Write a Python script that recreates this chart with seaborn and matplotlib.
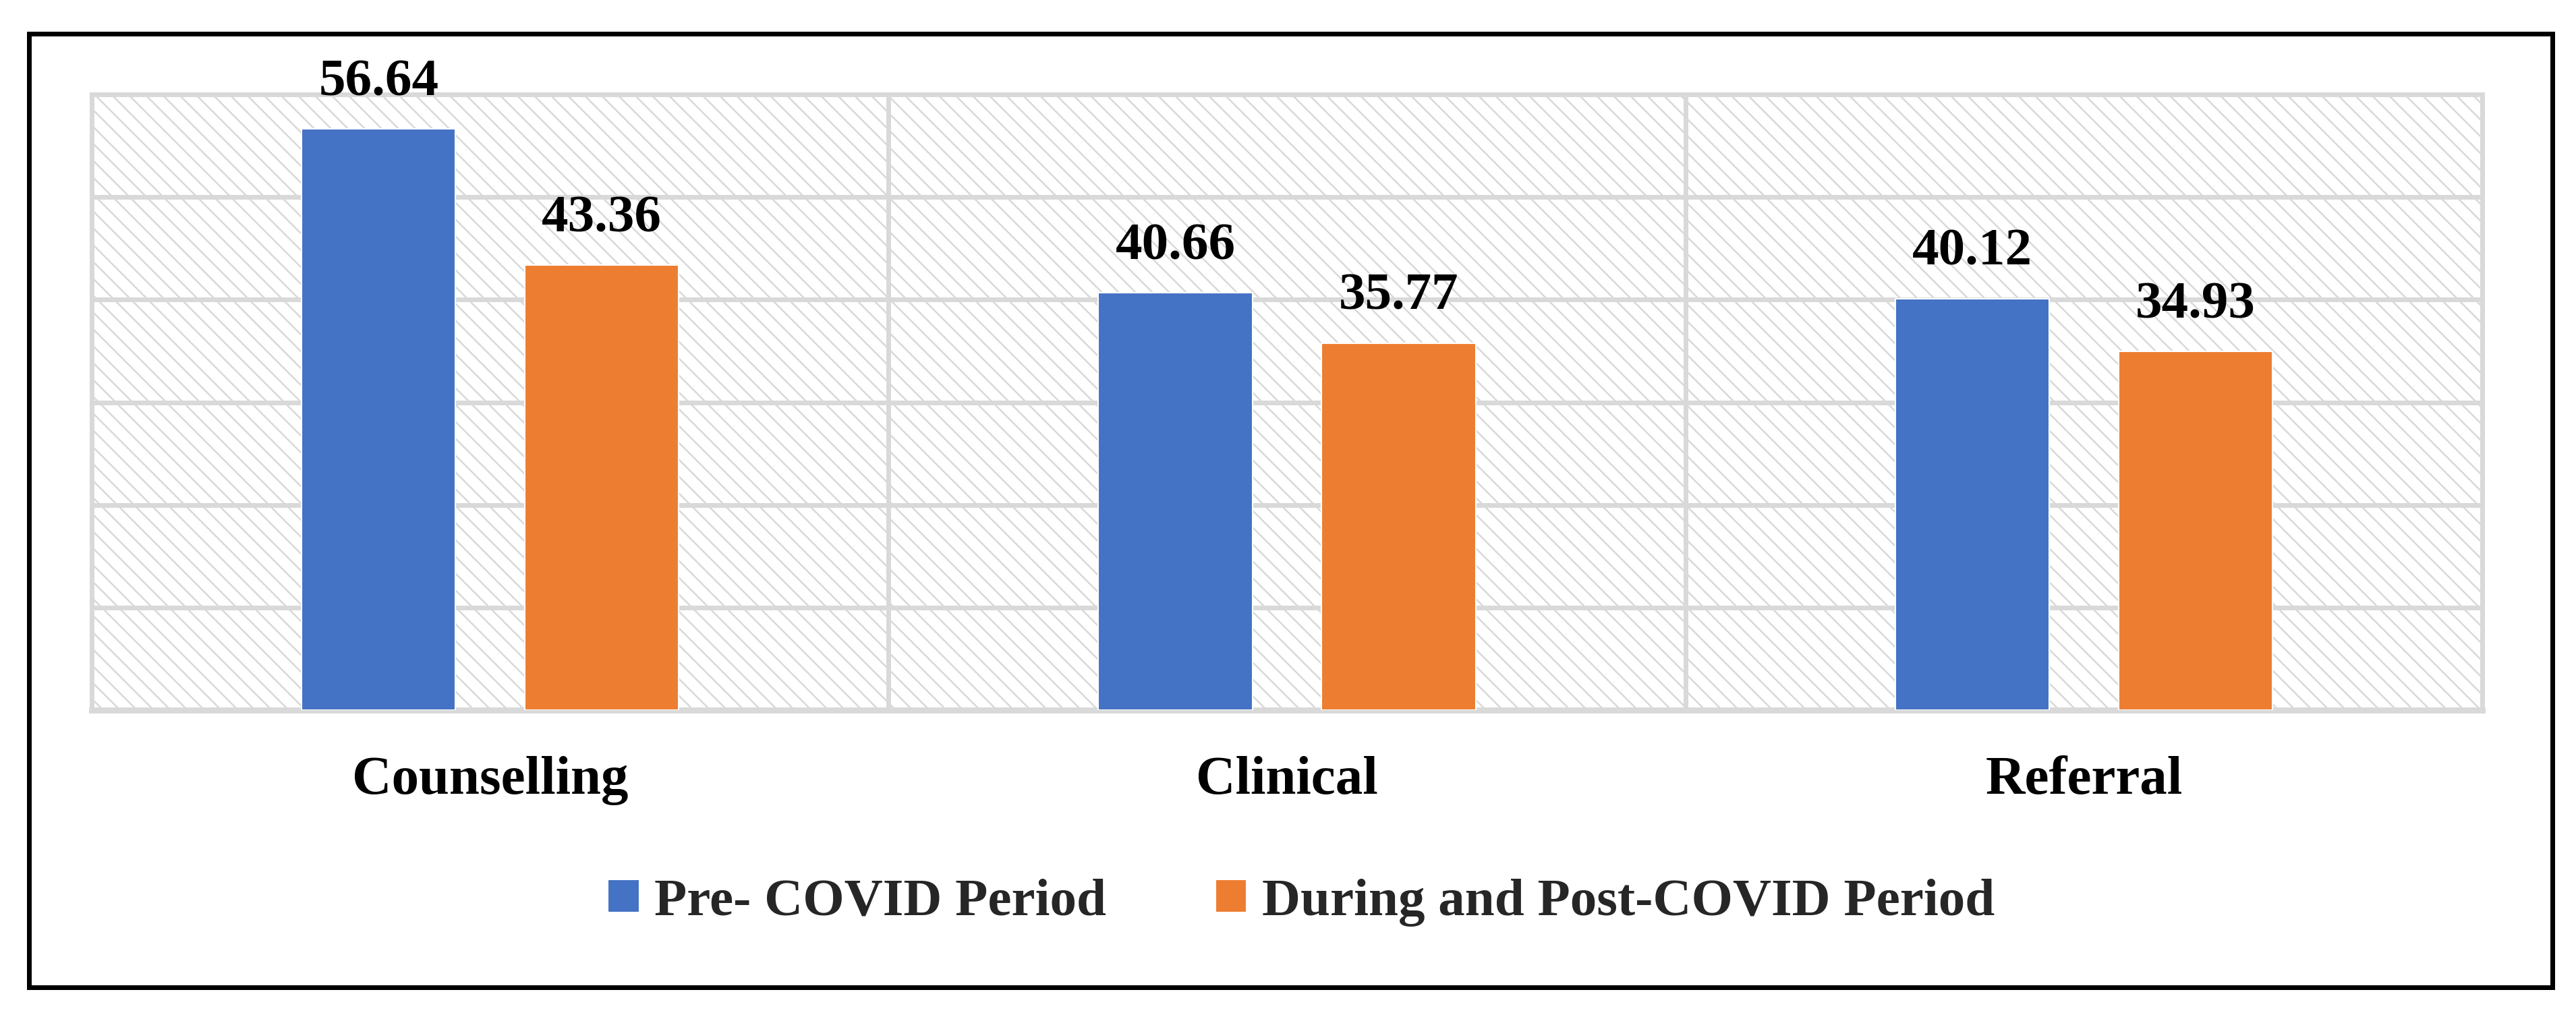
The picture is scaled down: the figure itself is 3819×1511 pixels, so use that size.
import numpy as np
import pandas as pd
import seaborn as sns
import matplotlib.pyplot as plt
from matplotlib.patches import Rectangle
plt.switch_backend('Agg')

CATEGORIES = ['Counselling', 'Clinical', 'Referral']
PERIODS = ['Pre- COVID Period', 'During and Post-COVID Period']
PRE_COVID = [56.64, 40.66, 40.12]
POST_COVID = [43.36, 35.77, 34.93]
COLORS = ['#4472C4', '#ED7D31']
GRID = '#d9d9d9'

DPI = 150
W, H = 3819, 1511


def px(n):
    '''pixels -> points at DPI'''
    return n * 72.0 / DPI


sns.set_theme(style='white')
plt.rcParams['font.family'] = ['Liberation Serif', 'DejaVu Serif']
plt.rcParams['font.weight'] = 'bold'
plt.rcParams['hatch.color'] = GRID
plt.rcParams['hatch.linewidth'] = px(2.5)

df = pd.DataFrame({
    'category': CATEGORIES * 2,
    'value': PRE_COVID + POST_COVID,
    'period': [PERIODS[0]] * 3 + [PERIODS[1]] * 3,
})

fig = plt.figure(figsize=(W / DPI, H / DPI), dpi=DPI)
ax = fig.add_axes([136 / W, 1 - 1053 / H, (3680 - 136) / W, (1053 - 140) / H])

# hatched plot area
ax.patch.set_facecolor('white')
ax.patch.set_edgecolor(GRID)
ax.patch.set_linewidth(0)
ax.patch.set_hatch('\\\\')

sns.barplot(data=df, x='category', y='value', hue='period', hue_order=PERIODS,
            palette=COLORS, saturation=1, width=0.56, gap=0.31, ax=ax,
            errorbar=None, zorder=3)

for cont in ax.containers:
    ax.bar_label(cont, fmt='%.2f', padding=px(33), fontsize=px(79),
                 fontweight='bold', color='black')

ax.set_ylim(0, 60)
ax.set_xlim(-0.5, 2.5)
ax.set_yticks(np.arange(0, 61, 10))
ax.set_yticklabels([])
ax.set_xticks(np.arange(3), minor=False)
ax.set_xticks([0.5, 1.5], minor=True)
ax.set_axisbelow(True)
ax.grid(axis='y', which='major', color=GRID, linewidth=px(7))
ax.grid(axis='x', which='minor', color=GRID, linewidth=px(7))
ax.grid(axis='x', which='major', visible=False)
ax.tick_params(axis='both', which='both', length=0)
ax.tick_params(axis='x', pad=px(68), labelsize=px(81))
ax.set_xlabel('')
ax.set_ylabel('')
for lab in ax.get_xticklabels():
    lab.set_fontweight('bold')
    lab.set_color('black')
for side, sp in ax.spines.items():
    sp.set_visible(True)
    sp.set_color(GRID)
    sp.set_linewidth(px(7))
ax.spines['bottom'].set_linewidth(px(9))

handles, labels = ax.get_legend_handles_labels()
ax.get_legend().remove()
fig.legend(handles, labels, loc='center', bbox_to_anchor=(1929 / W, 1 - 1338 / H),
           ncol=2, frameon=False, handlelength=0.59, handleheight=0.59,
           handletextpad=0.28, columnspacing=2.05,
           prop={'family': 'Liberation Serif', 'weight': 'bold', 'size': px(79)})

# outer black frame
fig.patches.append(Rectangle((43 / W, 1 - 1464 / H), (3784 - 43) / W, (1464 - 50) / H,
                             transform=fig.transFigure, fill=False,
                             edgecolor='black', linewidth=px(7)))

fig.savefig('out.png', dpi=DPI, facecolor='white')
